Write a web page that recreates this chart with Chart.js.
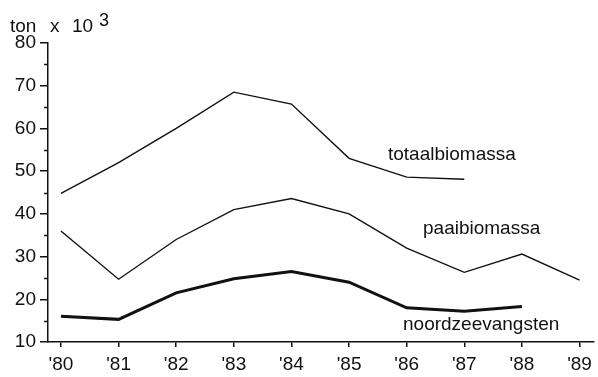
<!DOCTYPE html>
<html>
<head>
<meta charset="utf-8">
<script src="https://cdn.jsdelivr.net/npm/chart.js@4"></script>
<style>
  html, body { margin: 0; padding: 0; background: #fff; }
  #wrap { width: 598px; height: 377px; }
</style>
</head>
<body>
<div id="wrap"><canvas id="chart" width="598" height="377"></canvas></div>
<script>
// --------------- Data ---------------
const years = [80, 81, 82, 83, 84, 85, 86, 87, 88, 89];
const totaalbiomassa = [44.8, 52, 60, 68.5, 65.7, 53, 48.6, 48.1];
const paaibiomassa = [36, 24.7, 34, 41, 43.6, 40, 32, 26.3, 30.6, 24.5];
const noordzeevangsten = [16, 15.3, 21.5, 24.8, 26.5, 24, 18, 17.2, 18.3];
const yTicks = [10, 20, 30, 40, 50, 60, 70, 80];
const yMinorTicks = [15, 25, 35, 45, 55, 65, 75];

const FONT = "'Liberation Sans', Arial, sans-serif";

function toPoints(values) {
  return values.map((v, i) => ({ x: years[i], y: v }));
}

// --------------- Plugins ---------------
// minor ticks on the y axis + axis title + series labels
const decorations = {
  id: 'decorations',
  afterDraw(chart) {
    const ctx = chart.ctx;
    const ys = chart.scales.y;
    const left = chart.chartArea.left;

    ctx.save();
    ctx.strokeStyle = '#111';
    ctx.lineWidth = 1.5;
    yMinorTicks.forEach(v => {
      const py = Math.round(ys.getPixelForValue(v)) + 0.5;
      ctx.beginPath();
      ctx.moveTo(left - 4, py);
      ctx.lineTo(left, py);
      ctx.stroke();
    });

    ctx.fillStyle = '#111';
    ctx.textBaseline = 'alphabetic';
    ctx.font = '19px ' + FONT;
    ctx.fillText('ton', 10, 32);
    ctx.fillText('x', 50, 32);
    ctx.fillText('10', 72, 32);
    ctx.font = '18px ' + FONT;
    ctx.fillText('3', 99, 26);

    ctx.font = '19px ' + FONT;
    ctx.fillText('totaalbiomassa', 388, 160);
    ctx.fillText('paaibiomassa', 423, 234);
    ctx.fillText('noordzeevangsten', 403, 330);
    ctx.restore();
  }
};

// --------------- Chart ---------------
const ctx = document.getElementById('chart').getContext('2d');
new Chart(ctx, {
  type: 'line',
  data: {
    datasets: [
      { label: 'totaalbiomassa', data: toPoints(totaalbiomassa), borderColor: '#111', borderWidth: 1.4, pointRadius: 0, tension: 0 },
      { label: 'paaibiomassa', data: toPoints(paaibiomassa), borderColor: '#111', borderWidth: 1.4, pointRadius: 0, tension: 0 },
      { label: 'noordzeevangsten', data: toPoints(noordzeevangsten), borderColor: '#111', borderWidth: 3, pointRadius: 0, tension: 0 }
    ]
  },
  options: {
    responsive: false,
    animation: false,
    events: [],
    layout: { padding: { top: 43, right: 3, left: 0, bottom: 0 } },
    plugins: { legend: { display: false }, tooltip: { enabled: false } },
    scales: {
      x: {
        type: 'linear',
        min: 79.775,
        max: 89.24,
        afterFit(scale) { scale.height = 35; },
        border: { display: true, color: '#111', width: 1.5 },
        grid: { drawOnChartArea: false, drawTicks: true, tickLength: 5, color: '#111', lineWidth: 1.5 },
        ticks: {
          stepSize: 1,
          includeBounds: false,
          autoSkip: false,
          maxRotation: 0,
          padding: 6,
          color: '#111',
          font: { family: FONT, size: 19 },
          callback: v => "'" + v
        }
      },
      y: {
        min: 10,
        max: 80,
        afterFit(scale) { scale.width = 48; },
        afterBuildTicks(scale) { scale.ticks = yTicks.map(v => ({ value: v })); },
        border: { display: true, color: '#111', width: 1.5 },
        grid: { drawOnChartArea: false, drawTicks: true, tickLength: 8, color: '#111', lineWidth: 1.5 },
        ticks: {
          padding: 4,
          color: '#111',
          font: { family: FONT, size: 19 }
        }
      }
    }
  },
  plugins: [decorations]
});
</script>
</body>
</html>
